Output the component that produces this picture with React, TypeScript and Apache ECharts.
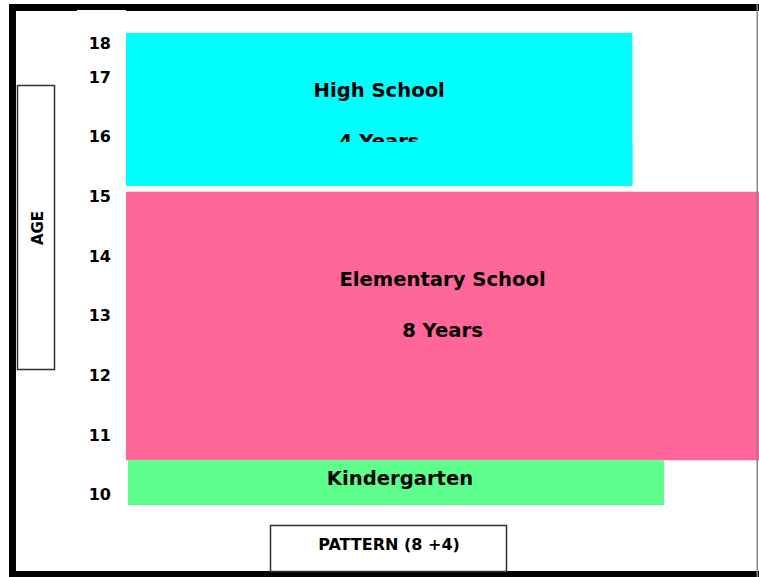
import React, { useEffect, useRef } from 'react';
import * as echarts from 'echarts';

// ---- data ----
const stages = ['High School', 'Elementary School', 'Kindergarten'];
const stageDurations = ['4 Years', '8 Years', ''];
const stageAgeFrom = [15.18, 10.58, 9.83];
const stageAgeTo = [17.74, 15.08, 10.58];
const stageXFrom = [0, 0, 0.3];
const stageXTo = [80, 100, 85];
const ageTickValues = [10, 11, 12, 13, 14, 15, 16, 17, 17.57];
const ageTickLabels = ['10', '11', '12', '13', '14', '15', '16', '17', '18'];
const yAxisTitle = 'AGE';
const xAxisTitle = 'PATTERN (8 +4)';

// ---- styles ----
const stageColors = ['#00FFFF', '#FF6699', '#5CFF8C'];
const labelOffsets = [[57, 108], [88, 139], [18]];
const labelDx = [0, 0, 4];
const FONT = '"DejaVu Sans", Verdana, sans-serif';

export default function App() {
  const ref = useRef<HTMLDivElement>(null);
  useEffect(() => {
    if (!ref.current) return;
    const chart = echarts.init(ref.current, null, { renderer: 'svg' });
    const data = stages.map((s, i) => [stageXFrom[i], stageXTo[i], stageAgeFrom[i], stageAgeTo[i]]);
    const option: any = {
      animation: false,
      backgroundColor: '#fff',
      grid: { left: 126, right: 0, top: 33, bottom: 72, containLabel: false },
      xAxis: {
        type: 'value', min: 0, max: 100,
        axisLine: { show: false }, axisTick: { show: false }, axisLabel: { show: false }, splitLine: { show: false },
      },
      yAxis: {
        type: 'value', min: 9.83, max: 17.74,
        axisLine: { show: false }, axisTick: { show: false }, splitLine: { show: false },
        axisLabel: {
          customValues: ageTickValues,
          formatter: (v: number) => {
            let best = 0;
            ageTickValues.forEach((t, i) => { if (Math.abs(t - v) < Math.abs(ageTickValues[best] - v)) best = i; });
            return ageTickLabels[best];
          },
          fontFamily: FONT, fontWeight: 'bold', fontSize: 16, color: '#000', margin: 15,
        },
      },
      series: [{
        type: 'custom',
        clip: false,
        data,
        renderItem: (params: any, api: any) => {
          const i = params.dataIndex;
          const p0 = api.coord([api.value(0), api.value(3)]);
          const p1 = api.coord([api.value(1), api.value(2)]);
          const x = p0[0], y = p0[1], w = p1[0] - p0[0], h = p1[1] - p0[1];
          const cx = x + w / 2 + labelDx[i];
          const children: any[] = [
            { type: 'rect', shape: { x, y, width: w, height: h }, style: { fill: stageColors[i] } },
          ];
          const lines = [stages[i], stageDurations[i]].filter((t) => t);
          lines.forEach((t, k) => {
            children.push({
              type: 'text', x: cx, y: y + labelOffsets[i][k],
              style: {
                text: t, font: `bold 19.6px ${FONT}`, fill: '#000',
                align: 'center', verticalAlign: 'middle', textAlign: 'center', textVerticalAlign: 'middle',
              },
            });
          });
          if (i === 0) {
            const cy = y + labelOffsets[i][1] + 1;
            children.push({ type: 'rect', shape: { x, y: cy, width: w, height: y + h - cy }, style: { fill: stageColors[i] } });
          }
          return { type: 'group', children };
        },
      }],
      graphic: [
        // frame
        { type: 'rect', z: 100, shape: { x: 9, y: 4, width: 750, height: 7 }, style: { fill: '#000' } },
        { type: 'rect', z: 100, shape: { x: 9, y: 4, width: 7, height: 573 }, style: { fill: '#000' } },
        { type: 'rect', z: 100, shape: { x: 9, y: 571, width: 750, height: 6 }, style: { fill: '#000' } },
        { type: 'rect', z: 100, shape: { x: 756.5, y: 4, width: 1.5, height: 573 }, style: { fill: '#888' } },
        { type: 'rect', z: 101, shape: { x: 77, y: 10, width: 49, height: 2 }, style: { fill: '#fff' } },
        // AGE box
        { type: 'rect', z: 100, shape: { x: 17.5, y: 85.5, width: 37, height: 284 }, style: { fill: '#fff', stroke: '#333', lineWidth: 1.5 } },
        {
          type: 'text', z: 101, x: 38, y: 228, rotation: Math.PI / 2,
          style: {
            text: yAxisTitle, font: `bold 15px ${FONT}`, fill: '#000',
            align: 'center', verticalAlign: 'middle', textAlign: 'center', textVerticalAlign: 'middle',
          },
        },
        // PATTERN box
        { type: 'rect', z: 100, shape: { x: 270.5, y: 525.5, width: 236, height: 46 }, style: { fill: '#fff', stroke: '#333', lineWidth: 1.5 } },
        {
          type: 'text', z: 101, x: 389, y: 544,
          style: {
            text: xAxisTitle, font: `bold 16px ${FONT}`, fill: '#000',
            align: 'center', verticalAlign: 'middle', textAlign: 'center', textVerticalAlign: 'middle',
          },
        },
      ],
    };
    chart.setOption(option);
    return () => chart.dispose();
  }, []);
  return <div ref={ref} style={{ position: 'fixed', left: 0, top: 0, width: 759, height: 577 }} />;
}
